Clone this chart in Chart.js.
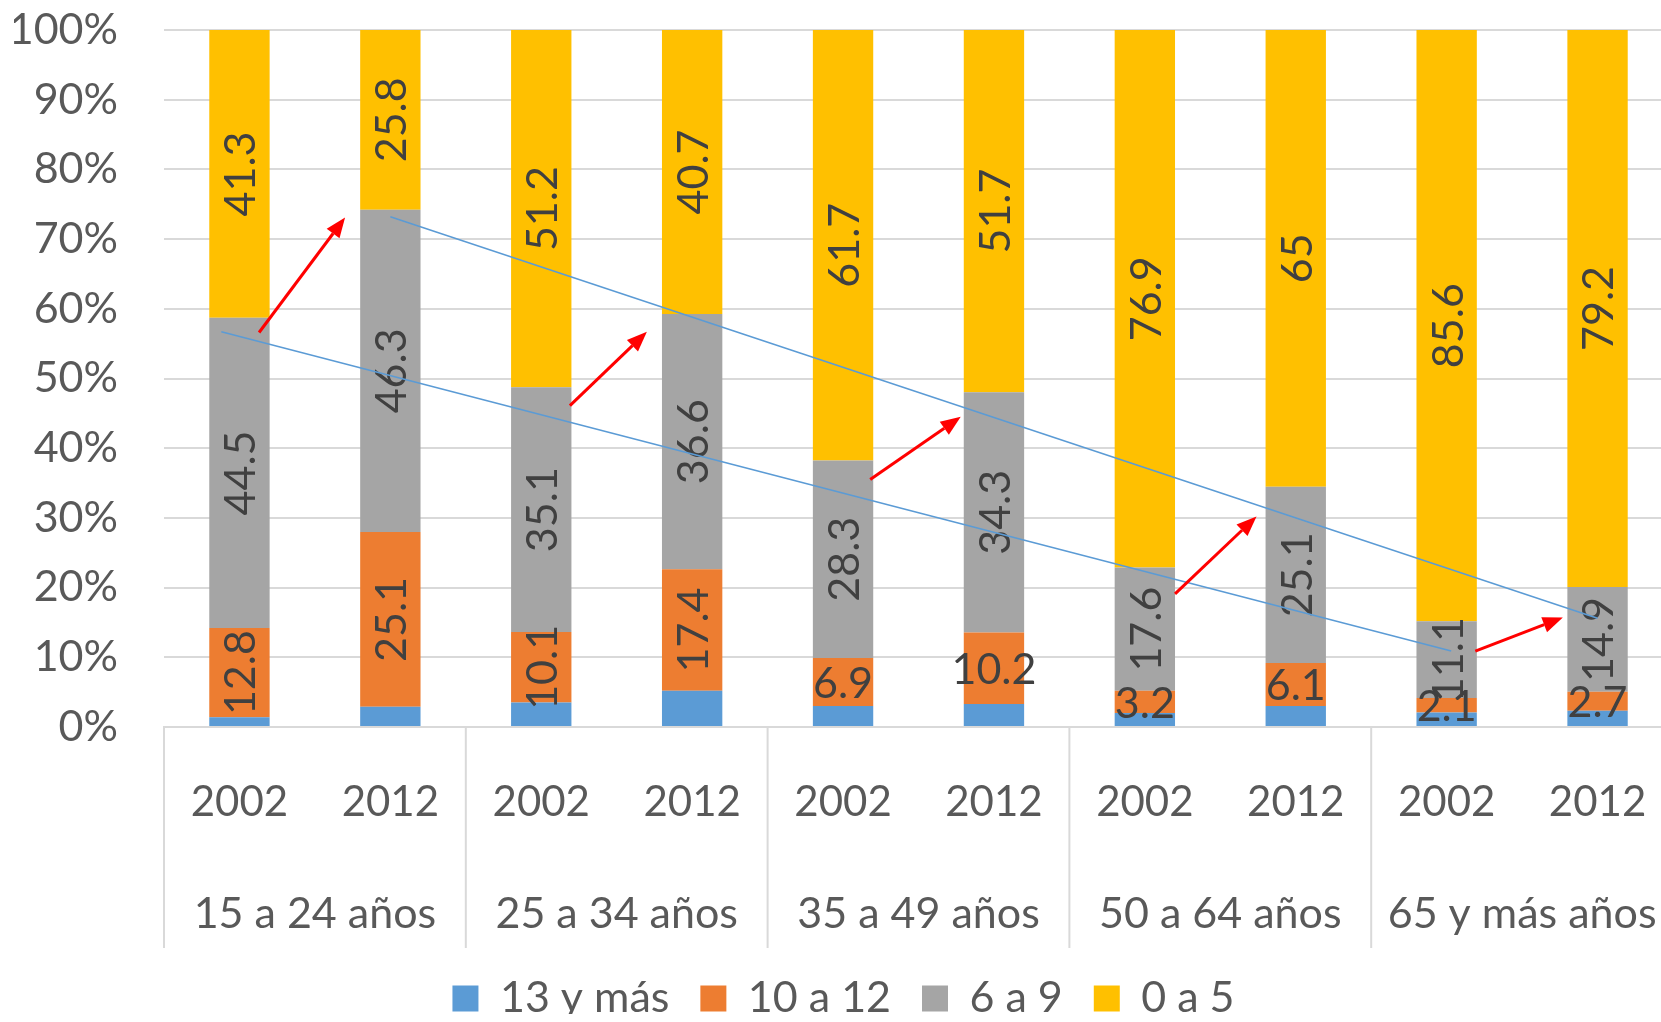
<!DOCTYPE html>
<html>
<head>
<meta charset="utf-8">
<script src="https://cdn.jsdelivr.net/npm/chart.js@4.4.1/dist/chart.umd.min.js"></script>
<style>
  html, body { margin: 0; padding: 0; background: #fff; overflow: hidden; }
  #wrap { width: 1700px; height: 1022px; }
</style>
</head>
<body>
<div id="wrap"><canvas id="chart" width="1700" height="1022"></canvas></div>
<script>
// DATA
const years = ["2002", "2012", "2002", "2012", "2002", "2012", "2002", "2012", "2002", "2012"];
const ageGroups = ["15 a 24 años", "25 a 34 años", "35 a 49 años", "50 a 64 años", "65 y más años"];
const seriesNames = ["13 y más", "10 a 12", "6 a 9", "0 a 5"];
// years of schooling, raw values (blue one, no label in source)
const edu13 = [1.4, 2.9, 3.5, 5.2, 3.0, 3.3, 2.0, 3.0, 2.1, 2.3];
const edu10 = [12.8, 25.1, 10.1, 17.4, 6.9, 10.2, 3.2, 6.1, 2.1, 2.7];
const edu6 = [44.5, 46.3, 35.1, 36.6, 28.3, 34.3, 17.6, 25.1, 11.1, 14.9];
const edu0 = [41.3, 25.8, 51.2, 40.7, 61.7, 51.7, 76.9, 65, 85.6, 79.2];
const yTicks = [0, 10, 20, 30, 40, 50, 60, 70, 80, 90, 100];

// annotations, in data units: [xIndex1, y1, xIndex2, y2]
const redArrows = [
  [0.13, 56.6, 0.70, 73.1],
  [2.19, 46.1, 2.70, 56.7],
  [4.18, 35.5, 4.78, 44.5],
  [6.20, 19.1, 6.74, 30.2],
  [8.19, 10.9, 8.77, 15.7],
];
const blueLines = [
  [-0.12, 56.7, 8.03, 10.9],
  [1.0, 73.2, 9.0, 15.6],
];

const rawSeries = [edu13, edu10, edu6, edu0];
const colors = ["#5B9BD5", "#ED7D31", "#A5A5A5", "#FFC000"];
// which labels get rotated (per series, per bar); blue has no labels
const rotateLabel = [
  null,
  [true, true, true, true, false, false, false, false, false, false],
  [true, true, true, true, true, true, true, true, true, true],
  [true, true, true, true, true, true, true, true, true, true],
];

// 100% stacked, like the spreadsheet does it
const totals = years.map((_, i) => rawSeries.reduce((s, arr) => s + arr[i], 0));
const pctSeries = rawSeries.map((arr) => arr.map((v, i) => (v / totals[i]) * 100));

const FONT = "Lato";
const TXT = "#595959";

/* PLUGINS */
const barLabels = {
  id: "barLabels",
  afterDatasetsDraw(chart) {
    const ctx = chart.ctx;
    ctx.save();
    ctx.font = `43px ${FONT}`;
    ctx.fillStyle = "#404040";
    ctx.textAlign = "center";
    ctx.textBaseline = "middle";
    for (let d = 1; d < rawSeries.length; d++) {
      const meta = chart.getDatasetMeta(d);
      meta.data.forEach((bar, i) => {
        const cy = (bar.y + bar.base) / 2;
        ctx.save();
        ctx.translate(bar.x, cy);
        if (rotateLabel[d][i]) ctx.rotate(-Math.PI / 2);
        ctx.fillText(String(rawSeries[d][i]), 0, 2);
        ctx.restore();
      });
    }
    ctx.restore();
  },
};

const groupLines = {
  id: "groupLines",
  afterDraw(chart) {
    const x = chart.scales.x;
    const ctx = chart.ctx;
    const step = x.getPixelForValue(1) - x.getPixelForValue(0);
    ctx.save();
    ctx.strokeStyle = "#D9D9D9";
    ctx.lineWidth = 2;
    for (let k = 0; k <= ageGroups.length; k++) {
      const px = x.getPixelForValue(k * 2) - step / 2;
      ctx.beginPath();
      ctx.moveTo(px, chart.chartArea.bottom);
      ctx.lineTo(px, chart.chartArea.bottom + 221);
      ctx.stroke();
    }
    ctx.restore();
  },
};

const annotations = {
  id: "annotations",
  afterDraw(chart) {
    const x = chart.scales.x;
    const y = chart.scales.y;
    const ctx = chart.ctx;
    const px = (v) => x.getPixelForValue(v);
    const py = (v) => y.getPixelForValue(v);
    ctx.save();
    ctx.strokeStyle = "#5B9BD5";
    ctx.lineWidth = 1.5;
    blueLines.forEach((l) => {
      ctx.beginPath();
      ctx.moveTo(px(l[0]), py(l[1]));
      ctx.lineTo(px(l[2]), py(l[3]));
      ctx.stroke();
    });
    ctx.strokeStyle = "#FF0000";
    ctx.fillStyle = "#FF0000";
    ctx.lineWidth = 3;
    redArrows.forEach((a) => {
      const x1 = px(a[0]), y1 = py(a[1]), x2 = px(a[2]), y2 = py(a[3]);
      const ang = Math.atan2(y2 - y1, x2 - x1);
      const head = 20;
      const bx = x2 - head * Math.cos(ang);
      const by = y2 - head * Math.sin(ang);
      ctx.beginPath();
      ctx.moveTo(x1, y1);
      ctx.lineTo(bx, by);
      ctx.stroke();
      ctx.beginPath();
      ctx.moveTo(x2, y2);
      ctx.lineTo(bx + 8 * Math.sin(ang), by - 8 * Math.cos(ang));
      ctx.lineTo(bx - 8 * Math.sin(ang), by + 8 * Math.cos(ang));
      ctx.closePath();
      ctx.fill();
    });
    ctx.restore();
  },
};

// keep the category axes from pushing the plot in at the sides
function noSidePadding(s) {
  s.paddingLeft = 0;
  s.paddingRight = 0;
}

/* CHART */
const chart = new Chart(document.getElementById("chart"), {
  type: "bar",
  data: {
    labels: years,
    datasets: seriesNames.map((name, d) => ({
      label: name,
      data: pctSeries[d],
      backgroundColor: colors[d],
      borderWidth: 0,
      barPercentage: 0.4,
      categoryPercentage: 1,
    })),
  },
  options: {
    responsive: false,
    animation: false,
    devicePixelRatio: 1,
    layout: { padding: { left: 14, top: 30, right: 27, bottom: 8 } },
    plugins: {
      tooltip: { enabled: false },
      legend: {
        position: "bottom",
        maxHeight: 68,
        labels: {
          boxWidth: 26,
          boxHeight: 26,
          padding: 31,
          color: TXT,
          font: { family: FONT, size: 43 },
        },
      },
    },
    scales: {
      x: {
        stacked: true,
        afterFit: (s) => { s.height = 99; noSidePadding(s); },
        grid: { display: false, drawTicks: false },
        border: { display: true, color: "#D9D9D9", width: 2 },
        ticks: {
          color: TXT,
          font: { family: FONT, size: 42 },
          padding: 50,
          autoSkip: false,
          maxRotation: 0,
        },
      },
      groups: {
        type: "category",
        labels: ageGroups,
        position: "bottom",
        offset: true,
        afterFit: (s) => { s.height = 120; noSidePadding(s); },
        grid: { display: false, drawTicks: false },
        border: { display: false },
        ticks: {
          color: TXT,
          font: { family: FONT, size: 43 },
          padding: 62,
          autoSkip: false,
          maxRotation: 0,
        },
      },
      y: {
        stacked: true,
        min: 0,
        max: 100,
        afterFit: (s) => {
          s.width = 150;
          s.paddingTop = 0;
          s.paddingBottom = 0;
        },
        afterBuildTicks: (s) => { s.ticks = yTicks.map((v) => ({ value: v })); },
        grid: { color: "#D9D9D9", lineWidth: 2, drawTicks: false },
        border: { display: false },
        ticks: {
          color: TXT,
          font: { family: FONT, size: 43 },
          padding: 46,
          callback: (v) => v + "%",
        },
      },
    },
  },
  plugins: [barLabels, groupLines, annotations],
});
</script>
</body>
</html>
